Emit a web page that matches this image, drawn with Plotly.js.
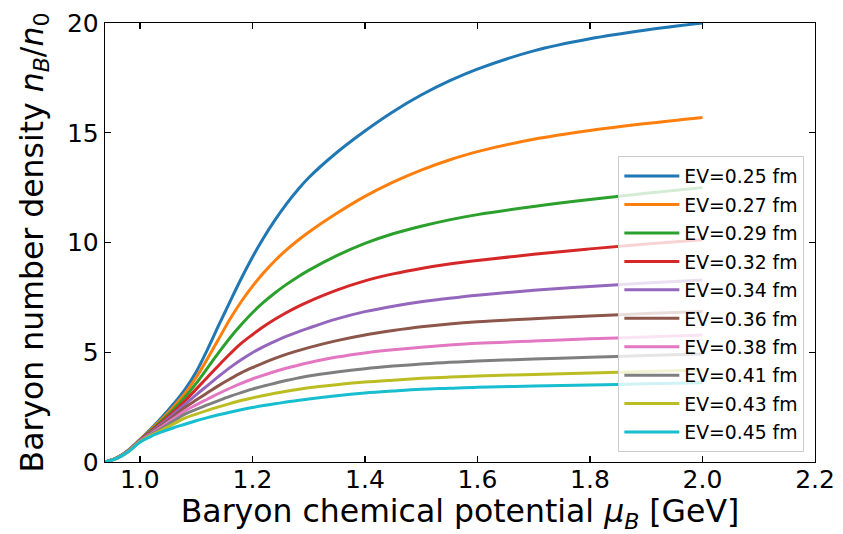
<!DOCTYPE html>
<html>
<head>
<meta charset="utf-8">
<script src="https://cdn.plot.ly/plotly-3.0.1.min.js"></script>
<style>
  html, body { margin: 0; padding: 0; background: #ffffff; }
  #chart { width: 843px; height: 534px; }
</style>
</head>
<body>
<div id="chart"></div>
<script>
// Baryon chemical potential grid (GeV)
const muB = [0.938, 0.96, 0.98, 1.00, 1.02, 1.04, 1.06, 1.08, 1.10, 1.12, 1.14, 1.16, 1.18, 1.20,
             1.22, 1.24, 1.26, 1.28, 1.30, 1.35, 1.40, 1.45, 1.50, 1.55, 1.60, 1.70, 1.80, 1.90, 2.00];

// Excluded-volume radius for each curve
const evLabels = ["EV=0.25 fm", "EV=0.27 fm", "EV=0.29 fm", "EV=0.32 fm", "EV=0.34 fm",
                  "EV=0.36 fm", "EV=0.38 fm", "EV=0.41 fm", "EV=0.43 fm", "EV=0.45 fm"];

// Baryon number density n_B / n_0 for each radius
const nB_025 = [0, 0.20, 0.55, 1.02, 1.52, 2.06, 2.65, 3.30, 4.10, 5.12, 6.22, 7.30, 8.35, 9.33,
                10.22, 11.02, 11.74, 12.38, 12.95, 14.10, 15.08, 15.96, 16.72, 17.36, 17.90, 18.73, 19.28, 19.68, 20.00];
const nB_027 = [0, 0.20, 0.54, 1.01, 1.49, 1.98, 2.52, 3.12, 3.85, 4.70, 5.60, 6.50, 7.30, 8.00,
                8.62, 9.17, 9.65, 10.08, 10.47, 11.33, 12.10, 12.75, 13.30, 13.76, 14.14, 14.70, 15.10, 15.42, 15.70];
const nB_029 = [0, 0.20, 0.53, 1.00, 1.45, 1.91, 2.40, 2.95, 3.58, 4.28, 4.98, 5.65, 6.25, 6.80,
                7.28, 7.70, 8.08, 8.42, 8.73, 9.40, 9.96, 10.40, 10.74, 11.03, 11.27, 11.64, 11.96, 12.24, 12.50];
const nB_032 = [0, 0.20, 0.52, 0.99, 1.41, 1.84, 2.29, 2.78, 3.32, 3.86, 4.40, 4.92, 5.40, 5.80,
                6.17, 6.50, 6.80, 7.07, 7.31, 7.83, 8.25, 8.57, 8.82, 9.02, 9.18, 9.46, 9.71, 9.93, 10.12];
const nB_034 = [0, 0.19, 0.51, 0.97, 1.37, 1.77, 2.19, 2.62, 3.06, 3.48, 3.90, 4.30, 4.66, 4.98,
                5.26, 5.50, 5.72, 5.92, 6.10, 6.52, 6.85, 7.10, 7.30, 7.46, 7.60, 7.82, 8.00, 8.15, 8.29];
const nB_036 = [0, 0.19, 0.50, 0.96, 1.33, 1.70, 2.09, 2.48, 2.82, 3.15, 3.48, 3.78, 4.06, 4.30,
                4.52, 4.72, 4.90, 5.06, 5.21, 5.53, 5.79, 5.99, 6.16, 6.29, 6.39, 6.53, 6.65, 6.76, 6.86];
const nB_038 = [0, 0.19, 0.50, 0.95, 1.29, 1.63, 1.98, 2.33, 2.60, 2.86, 3.12, 3.36, 3.58, 3.78,
                3.96, 4.12, 4.27, 4.40, 4.52, 4.78, 4.97, 5.11, 5.23, 5.33, 5.41, 5.51, 5.61, 5.70, 5.79];
const nB_041 = [0, 0.18, 0.49, 0.93, 1.25, 1.55, 1.87, 2.18, 2.40, 2.60, 2.80, 2.99, 3.16, 3.32,
                3.46, 3.59, 3.71, 3.82, 3.92, 4.10, 4.25, 4.37, 4.47, 4.54, 4.60, 4.69, 4.77, 4.85, 4.92];
const nB_043 = [0, 0.18, 0.48, 0.92, 1.21, 1.47, 1.74, 2.00, 2.18, 2.35, 2.51, 2.66, 2.80, 2.92,
                3.03, 3.13, 3.22, 3.30, 3.38, 3.52, 3.64, 3.73, 3.81, 3.87, 3.92, 3.99, 4.05, 4.12, 4.19];
const nB_045 = [0, 0.18, 0.48, 0.90, 1.17, 1.38, 1.56, 1.72, 1.88, 2.02, 2.15, 2.27, 2.38, 2.48,
                2.57, 2.65, 2.73, 2.80, 2.87, 3.02, 3.14, 3.23, 3.31, 3.36, 3.41, 3.46, 3.51, 3.56, 3.61];

const series = [nB_025, nB_027, nB_029, nB_032, nB_034, nB_036, nB_038, nB_041, nB_043, nB_045];

// matplotlib "tab10" cycle
const colors = ["#1f77b4", "#ff7f0e", "#2ca02c", "#d62728", "#9467bd",
                "#8c564b", "#e377c2", "#7f7f7f", "#bcbd22", "#17becf"];

const xTicks = [1.0, 1.2, 1.4, 1.6, 1.8, 2.0, 2.2];
const yTicks = [0, 5, 10, 15, 20];

const traces = series.map((ys, i) => ({
  x: muB,
  y: ys,
  type: "scatter",
  mode: "lines",
  name: evLabels[i],
  legendgroup: "g" + i,
  line: { color: colors[i], width: 3, shape: "spline", smoothing: 1 }
}));

const font = "DejaVu Sans, Liberation Sans, sans-serif";

const axisCommon = {
  showgrid: false,
  zeroline: false,
  showline: true,
  linecolor: "#000000",
  linewidth: 1.3,
  mirror: "ticks",
  ticks: "inside",
  ticklen: 6,
  tickwidth: 1.3,
  tickcolor: "#000000",
  tickfont: { family: font, size: 25, color: "#000000" }
};

const layout = {
  width: 843,
  height: 534,
  margin: { l: 105, r: 28, t: 23, b: 72 },
  paper_bgcolor: "#ffffff",
  plot_bgcolor: "#ffffff",
  font: { family: font, color: "#000000" },
  xaxis: Object.assign({}, axisCommon, {
    range: [0.938, 2.2],
    tickvals: xTicks,
    ticktext: xTicks.map(v => v.toFixed(1)),
    ticklabelstandoff: -5,
    title: { text: "Baryon chemical potential <i>μ</i><sub><i>B</i></sub> [GeV]",
             font: { family: font, size: 31.5, color: "#000000" }, standoff: 15 }
  }),
  yaxis: Object.assign({}, axisCommon, {
    range: [0, 20],
    tickvals: yTicks,
    ticktext: yTicks.map(String),
    title: { text: "Baryon number density <i>n</i><sub><i>B</i></sub>/<i>n</i><sub>0</sub>",
             font: { family: font, size: 31.5, color: "#000000" }, standoff: 14 }
  }),
  showlegend: true,
  legend: {
    x: 0.985, y: 0.022, xanchor: "right", yanchor: "bottom",
    bgcolor: "rgba(255,255,255,0.8)",
    bordercolor: "#cccccc",
    borderwidth: 1,
    traceorder: "grouped",
    tracegroupgap: 1,
    itemwidth: 55,
    font: { family: font, size: 18.8, color: "#000000" }
  }
};

Plotly.newPlot("chart", traces, layout, { staticPlot: true, displayModeBar: false });
</script>
</body>
</html>
